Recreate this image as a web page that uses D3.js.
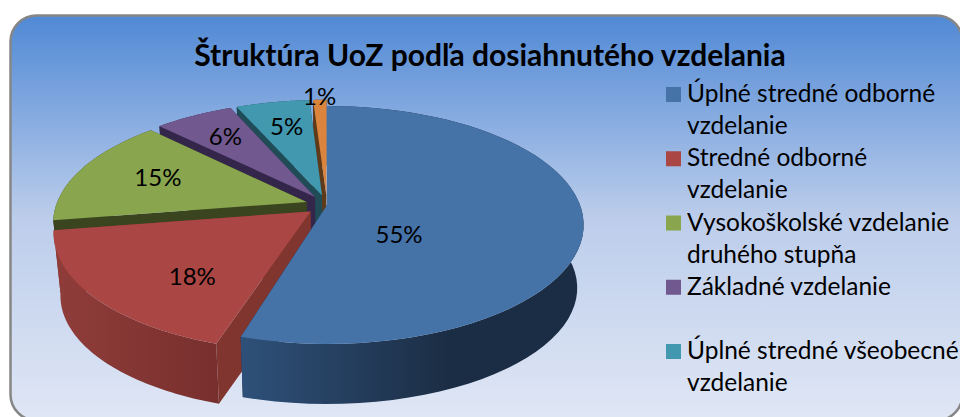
<!DOCTYPE html>
<html>
<head>
<meta charset="utf-8">
<script src="https://cdn.jsdelivr.net/npm/d3@7"></script>
<style>
html, body { margin: 0; padding: 0; background: #fff; overflow: hidden; }
text { font-family: Lato, "Open Sans", sans-serif; fill: #000; }
</style>
</head>
<body>
<div class="container"></div>
<script>
var w = 960;
var h = 417;

var title = "Štruktúra UoZ podľa dosiahnutého vzdelania";

// the legend stops after five rows, the 1% slice has no visible entry
var categories = [
  ["Úplné stredné odborné", "vzdelanie"],
  ["Stredné odborné", "vzdelanie"],
  ["Vysokoškolské vzdelanie", "druhého stupňa"],
  ["Základné vzdelanie", ""],
  ["Úplné stredné všeobecné", "vzdelanie"]
];
// shares measured off the slice edges, the printed labels are rounded
var values = [54.9, 17.6, 15, 5.95, 5.55, 1];
var valueLabels = ["55%", "18%", "15%", "6%", "5%", "1%"];

var topColors = ["#4572a7", "#aa4643", "#89a54e", "#71588f", "#4198af", "#db843d"];
var wallColors = ["#1b2d44", "#81352f", "#3a451f", "#33264a", "#1f4c57", "#5f3a18"];

// layout of the tilted pie
var explode = [0, 0.085, 0.085, 0.085, 0.085, 0.085];
var sliceRadius = [1, 0.99, 0.99, 0.99, 0.99, 0.99];
var endTrim = [1, 0, 0, 0, 0, 0]; // degrees, the gap after the blue slice
var labelShift = [33.7, -10.1, 1.2, -0.1, 0.3, 0];
var labelRadius = [0.37, 0.66, 0.651, 0.704, 0.697, 1.024];

var cx = 327, cy = 205;
var rx = 253, ry = 115.6, persp = 0.168;
var bottomScale = 0.975, bottomShift = 68.6;

var svg = d3.select(".container").append("svg")
  .attr("width", w)
  .attr("height", h)
  .style("display", "block");

var defs = svg.append("defs");

var bg = defs.append("linearGradient").attr("id", "bg")
  .attr("x1", 0).attr("y1", 0).attr("x2", 0).attr("y2", 1);
bg.append("stop").attr("offset", "0%").attr("stop-color", "#5089d5");
bg.append("stop").attr("offset", "50%").attr("stop-color", "#bccdeb");
bg.append("stop").attr("offset", "100%").attr("stop-color", "#e0e7f5");

var blueWall = defs.append("linearGradient").attr("id", "wall0")
  .attr("gradientUnits", "userSpaceOnUse")
  .attr("x1", 244).attr("y1", 0).attr("x2", 450).attr("y2", 0);
blueWall.append("stop").attr("offset", "0%").attr("stop-color", "#2e5078");
blueWall.append("stop").attr("offset", "100%").attr("stop-color", "#1b2d44");

var redWall = defs.append("linearGradient").attr("id", "wall1")
  .attr("gradientUnits", "userSpaceOnUse")
  .attr("x1", 54).attr("y1", 0).attr("x2", 220).attr("y2", 0);
redWall.append("stop").attr("offset", "0%").attr("stop-color", "#903d3a");
redWall.append("stop").attr("offset", "100%").attr("stop-color", "#772f2d");

svg.append("rect")
  .attr("x", 10.5).attr("y", 15.5)
  .attr("width", 952).attr("height", 405)
  .attr("rx", 26).attr("ry", 26)
  .attr("fill", "url(#bg)")
  .attr("stroke", "#868686")
  .attr("stroke-width", 2.5);

var pie = d3.pie().sort(null).value(function(d) { return d; });
var arcs = pie(values);

// a point on the pie plane to the screen, angle clockwise from the top
function project(angle, r, e, mid) {
  var x = r * Math.sin(angle) + e * Math.sin(mid);
  var z = r * Math.cos(angle) + e * Math.cos(mid);
  var depth = 1 + persp * z;
  return [cx + rx * x / depth, cy - ry * z / depth];
}

function lower(p) {
  return [cx + bottomScale * (p[0] - cx), bottomScale * p[1] + bottomShift];
}

var line = d3.line();

function arcPoints(a0, a1, r, e, mid) {
  return d3.range(0, 61).map(function(i) {
    return project(a0 + (a1 - a0) * i / 60, r, e, mid);
  });
}

var slices = svg.append("g");

// back slices first, the big blue one comes last
d3.range(values.length - 1, -1, -1).forEach(function(i) {
  var d = arcs[i];
  var mid = (d.startAngle + d.endAngle) / 2;
  var e = explode[i];
  var apex = project(0, 0, e, mid);
  var end = d.endAngle - endTrim[i] * Math.PI / 180;
  var rim = arcPoints(d.startAngle, end, sliceRadius[i], e, mid);
  var g = slices.append("g");

  [rim[0], rim[60]].forEach(function(p) {
    g.append("path")
      .attr("d", line([apex, p, lower(p), lower(apex)]) + "Z")
      .attr("fill", wallColors[i]);
  });

  g.append("path")
    .attr("d", line(rim.concat(rim.map(lower).reverse())) + "Z")
    .attr("fill", i < 2 ? "url(#wall" + i + ")" : wallColors[i]);

  g.append("path")
    .attr("d", line([apex].concat(rim)) + "Z")
    .attr("fill", topColors[i]);
});

var labels = svg.append("g");
arcs.forEach(function(d, i) {
  var mid = (d.startAngle + d.endAngle) / 2;
  var p = project(mid + labelShift[i] * Math.PI / 180, labelRadius[i], explode[i], mid);
  labels.append("text")
    .attr("x", p[0])
    .attr("y", p[1] + 8)
    .attr("text-anchor", "middle")
    .style("font-size", "24px")
    .text(valueLabels[i]);
});

svg.append("text")
  .attr("x", 490)
  .attr("y", 66)
  .attr("text-anchor", "middle")
  .style("font-size", "30px")
  .style("font-weight", "bold")
  .text(title);

var legendY = d3.scaleLinear().domain([0, 4]).range([102, 359]);

var legend = svg.append("g")
  .selectAll("g")
  .data(categories)
  .enter()
  .append("g")
  .attr("transform", function(d, i) { return "translate(666," + legendY(i) + ")"; });

legend.append("rect")
  .attr("x", 0)
  .attr("y", -15)
  .attr("width", 15)
  .attr("height", 15)
  .attr("fill", function(d, i) { return topColors[i]; });

legend.append("text")
  .attr("x", 21)
  .style("font-size", "24.5px")
  .text(function(d) { return d[0]; });

legend.append("text")
  .attr("x", 21)
  .attr("y", 32)
  .style("font-size", "24.5px")
  .text(function(d) { return d[1]; });
</script>
</body>
</html>
